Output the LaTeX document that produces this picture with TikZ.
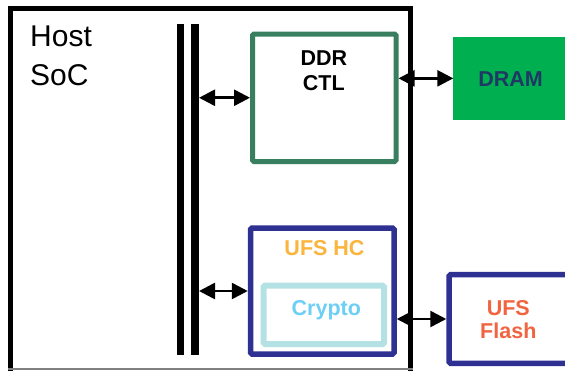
\documentclass[tikz,border=0pt]{standalone}
\usepackage{fontspec}
\setmainfont{Liberation Sans}
\usetikzlibrary{arrows.meta}
\definecolor{ddrgreen}{RGB}{55,127,95}
\definecolor{dramgreen}{RGB}{0,176,80}
\definecolor{dramblue}{RGB}{31,56,100}
\definecolor{ufsnavy}{RGB}{46,49,146}
\definecolor{hcorange}{RGB}{251,180,60}
\definecolor{cryptoteal}{RGB}{180,225,228}
\definecolor{cryptoblue}{RGB}{109,207,246}
\definecolor{flashred}{RGB}{242,100,64}
\begin{document}
\begin{tikzpicture}[x=1bp,y=-1bp,
  box/.style={draw, line width=5bp, outer sep=auto, inner sep=0, fill=white, rounded corners=1.5bp},
  busbar/.style={fill=black, inner sep=0, outer sep=0, minimum height=331bp},
  link/.style={line width=2.6bp, {Triangle[length=16bp,width=16bp]}-{Triangle[length=16bp,width=16bp]}},
  lbl/.style={font=\fontsize{21.5bp}{25bp}\selectfont\bfseries, align=center, inner sep=0}
]
\useasboundingbox (0,0) rectangle (565,370);
\clip (0,0) rectangle (565,370);
\fill[white] (0,0) rectangle (565,370);

% SoC outline (open at the bottom edge)
\node[draw, line width=5bp, inner sep=0, outer sep=0,
      minimum width=399.5bp, minimum height=366.5bp] (host) at (210.25,191.75) {};
\draw[gray, line width=1.5bp] (8,369) -- (412.7,369);
\node[anchor=base west, align=left, inner sep=0,
      font=\fontsize{30bp}{39.5bp}\selectfont] (hosttxt) at (30,85.7) {Host\\SoC};

% system bus
\node[busbar, minimum width=7.5bp] (busA) at (180.5,189.5) {};
\node[busbar, minimum width=8bp] (busB) at (195,189.5) {};

% DDR controller and DRAM
\node[box, draw=ddrgreen, minimum width=143.5bp, minimum height=127.5bp] (ddr) at (324.25,97.75) {};
\node[lbl, anchor=base] (ddrtxt) at (323.8,90.7) {DDR\\CTL};
\node[fill=dramgreen, inner sep=0, outer sep=0, anchor=west,
      minimum width=140bp, minimum height=83.3bp] (dram) at (453.3,78.35) {};
\node[lbl, text=dramblue, anchor=base] (dramtxt) at (510.5,86.7) {DRAM};

% UFS host controller with inline crypto
\node[box, draw=ufsnavy, line width=5.5bp, minimum width=143.5bp, minimum height=126bp] (hc) at (322.25,291) {};
\node[lbl, text=hcorange, anchor=base] (hctxt) at (324.5,255.7) {UFS HC};
\node[box, draw=cryptoteal, line width=6bp, minimum width=120.3bp, minimum height=58.5bp] (crypto) at (323.85,314.75) {};
\node[lbl, text=cryptoblue, anchor=base] (cryptotxt) at (326.3,315) {Crypto};

% UFS flash device
\node[box, draw=ufsnavy, line width=5.5bp, minimum width=151bp, minimum height=88.6bp] (flash) at (524.5,319) {};
\node[lbl, text=flashred, anchor=base, font=\fontsize{21.5bp}{22.5bp}\selectfont\bfseries] (flashtxt) at (508.3,338.3) {UFS\\Flash};

% links
\draw[link] (busB.east |- ddr.west) -- (ddr.west);
\draw[link] (dram.west -| ddr.east) -- (dram.west);
\draw[link] (busB.east |- hc.west) -- (hc.west);
\draw[link] (flash.west -| hc.east) -- (flash.west);
\end{tikzpicture}
\end{document}
